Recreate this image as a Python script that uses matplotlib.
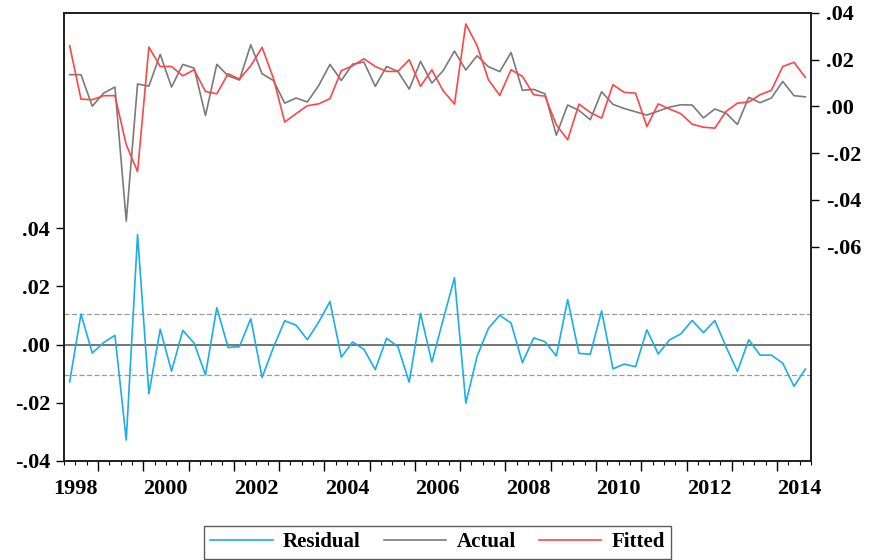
import pandas as pd
import matplotlib
matplotlib.use("Agg")
import matplotlib.pyplot as plt
from matplotlib.ticker import MultipleLocator

# quarterly sample 1998Q2 - 2014Q3
quarters = pd.period_range("1998Q2", "2014Q3", freq="Q")

residual = [
    -0.0128, 0.0105, -0.0029, 0.0007, 0.0032, -0.0328, 0.0378, -0.0169,
    0.0053, -0.0091, 0.0049, 0.0005, -0.0104, 0.0127, -0.0010, -0.0007,
    0.0089, -0.0113, -0.0010, 0.0082, 0.0067, 0.0017, 0.0077, 0.0148,
    -0.0043, 0.0009, -0.0016, -0.0086, 0.0022, -0.0007, -0.0129, 0.0107,
    -0.0060, 0.0086, 0.0230, -0.0201, -0.0040, 0.0056, 0.0101, 0.0074,
    -0.0062, 0.0023, 0.0010, -0.0039, 0.0155, -0.0030, -0.0033, 0.0116,
    -0.0083, -0.0067, -0.0076, 0.0051, -0.0032, 0.0016, 0.0037, 0.0083,
    0.0041, 0.0083, -0.0008, -0.0092, 0.0017, -0.0036, -0.0036, -0.0064,
    -0.0143, -0.0084,
]

actual = [
    0.0136, 0.0136, 0.0001, 0.0057, 0.0083, -0.0491, 0.0096, 0.0087,
    0.0223, 0.0083, 0.0180, 0.0164, -0.0039, 0.0180, 0.0131, 0.0113,
    0.0264, 0.0140, 0.0111, 0.0014, 0.0036, 0.0019, 0.0089, 0.0180,
    0.0111, 0.0181, 0.0190, 0.0086, 0.0171, 0.0150, 0.0074, 0.0193,
    0.0100, 0.0153, 0.0237, 0.0156, 0.0217, 0.0170, 0.0149, 0.0231,
    0.0069, 0.0073, 0.0054, -0.0123, 0.0006, -0.0017, -0.0057, 0.0063,
    0.0009, -0.0009, -0.0023, -0.0037, -0.0020, -0.0003, 0.0007, 0.0006,
    -0.0049, -0.0011, -0.0029, -0.0077, 0.0039, 0.0016, 0.0036, 0.0107,
    0.0046, 0.0041,
]

fitted = [
    0.0260, 0.0031, 0.0029, 0.0046, 0.0046, -0.0164, -0.0279, 0.0254,
    0.0171, 0.0171, 0.0131, 0.0157, 0.0064, 0.0054, 0.0140, 0.0117,
    0.0174, 0.0253, 0.0121, -0.0067, -0.0031, 0.0003, 0.0011, 0.0033,
    0.0153, 0.0174, 0.0204, 0.0171, 0.0150, 0.0150, 0.0200, 0.0086,
    0.0157, 0.0067, 0.0010, 0.0353, 0.0260, 0.0114, 0.0047, 0.0157,
    0.0129, 0.0050, 0.0044, -0.0079, -0.0143, 0.0010, -0.0026, -0.0050,
    0.0093, 0.0060, 0.0057, -0.0086, 0.0011, -0.0011, -0.0031, -0.0076,
    -0.0089, -0.0093, -0.0021, 0.0014, 0.0019, 0.0050, 0.0069, 0.0171,
    0.0189, 0.0124,
]

resid_sd = 0.0105

left_ticks = [-0.04, -0.02, 0.0, 0.02, 0.04]
left_labels = ["-.04", "-.02", ".00", ".02", ".04"]
right_ticks = [-0.06, -0.04, -0.02, 0.0, 0.02, 0.04]
right_labels = ["-.06", "-.04", "-.02", ".00", ".02", ".04"]
year_labels = list(range(1998, 2015, 2))

plt.rcParams['font.family'] = ['Liberation Serif', 'DejaVu Serif']
plt.rcParams['font.weight'] = 'bold'

fig = plt.figure(figsize=(8.69, 5.60), dpi=100)
ax = fig.add_axes([64/869, 1 - 461/560, (811 - 64)/869, (461 - 13)/560])
ax2 = ax.twinx()

# observations sit in the middle of each quarter
x = quarters.year + (quarters.quarter - 1) / 4 + 0.125

ax.axhline(0, color='#505050', lw=1.1, zorder=1)
ax.axhline(resid_sd, color='#9a9a9a', lw=0.9, ls=(0, (4, 2)), zorder=1)
ax.axhline(-resid_sd, color='#9a9a9a', lw=0.9, ls=(0, (4, 2)), zorder=1)
l1, = ax.plot(x, residual, color='#1aaee8', lw=1.2, label='Residual')
l2, = ax2.plot(x, actual, color='#7a7a7a', lw=1.2, label='Actual')
l3, = ax2.plot(x, fitted, color='#ff4646', lw=1.2, label='Fitted')

ax.set_xlim(1998.25, 2014.75)
ax.set_ylim(-0.04, 0.114)
ax2.set_ylim(-0.1518, 0.04)

ax.set_yticks(left_ticks, left_labels)
ax2.set_yticks(right_ticks, right_labels)

ax.xaxis.set_major_locator(MultipleLocator(1))
ax.xaxis.set_minor_locator(MultipleLocator(0.25))
ax.tick_params(axis='x', which='major', length=7.5, width=1, labelbottom=False)
ax.tick_params(axis='x', which='minor', length=3, width=0.8)
ax.tick_params(axis='y', length=6, width=1, labelsize=16, pad=4)
ax2.tick_params(axis='y', length=6, width=1, labelsize=16, pad=5)

for a in (ax, ax2):
    for s in a.spines.values():
        s.set_linewidth(1.3)
        s.set_color('#222222')

# year labels centred on each year
sec = ax.secondary_xaxis('bottom')
sec.set_xticks([y + 0.5 for y in year_labels], [str(y) for y in year_labels])
sec.tick_params(length=0, pad=13, labelsize=16)
sec.spines['bottom'].set_visible(False)

leg = fig.legend(handles=[l1, l2, l3], loc='upper center',
                 bbox_to_anchor=(437.5/869, 1 - 522/560), ncol=3,
                 frameon=True, fancybox=False, edgecolor='#333333',
                 fontsize=15, handlelength=3.0, columnspacing=1.1,
                 handletextpad=0.5, borderpad=0.3, borderaxespad=0.2)
leg.get_frame().set_linewidth(1.0)

fig.savefig('out.png', dpi=100)
